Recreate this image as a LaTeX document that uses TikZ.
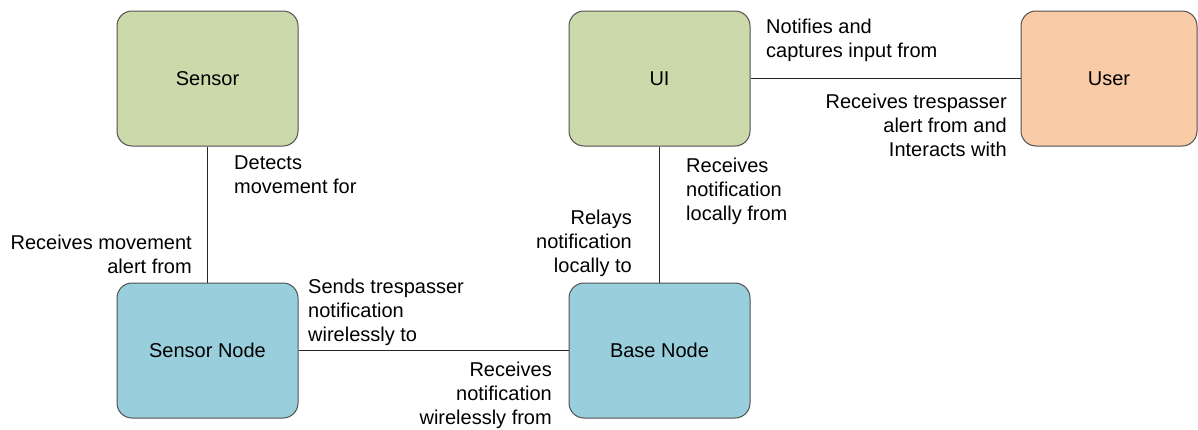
\documentclass[tikz,border=0pt]{standalone}
\usepackage{fontspec}
\setmainfont{Liberation Sans}
\definecolor{boxgreen}{HTML}{CCDAAB}
\definecolor{boxblue}{HTML}{99CFDC}
\definecolor{boxorange}{HTML}{F9CBA6}
\definecolor{edgegray}{HTML}{505050}
\tikzset{
  ent/.style={draw=edgegray, line width=1pt, rounded corners=15pt, minimum width=181pt, minimum height=135pt, inner sep=0pt, font=\fontsize{20}{24}\selectfont},
  lbl/.style={inner sep=0pt, font=\fontsize{20}{24}\selectfont},
  conn/.style={draw=black!85, line width=1pt}
}
\begin{document}
\begin{tikzpicture}[x=1pt,y=-1pt]
\useasboundingbox (0,0) rectangle (1198,429);
\fill[white] (0,0) rectangle (1198,429);
\node[ent, fill=boxgreen] (sensor) at (207.5,78.5) {Sensor};
\node[ent, fill=boxgreen] (ui) at (659.5,78.5) {UI};
\node[ent, fill=boxorange, minimum width=176pt] (user) at (1109,78.5) {User};
\node[ent, fill=boxblue] (snode) at (207.5,350.5) {Sensor Node};
\node[ent, fill=boxblue] (bnode) at (659.5,350.5) {Base Node};

\draw[conn] (sensor) -- (snode);
\draw[conn] (ui) -- (bnode);
\draw[conn] (snode) -- (bnode);
\draw[conn] (ui) -- (user);

\node[lbl, anchor=west, align=left] (l1) at (234,175) {Detects\\movement for};
\node[lbl, anchor=east, align=right] (l2) at (192,254) {Receives movement\\alert from};
\node[lbl, anchor=west, align=left] (l3) at (308,312) {Sends trespasser\\notification\\wirelessly to};
\node[lbl, anchor=east, align=right] (l4) at (552,395) {Receives\\notification\\wirelessly from};
\node[lbl, anchor=east, align=right] (l5) at (632,243) {Relays\\notification\\locally to};
\node[lbl, anchor=west, align=left] (l6) at (686,191) {Receives\\notification\\locally from};
\node[lbl, anchor=west, align=left] (l7) at (766,40) {Notifies and\\captures input from};
\node[lbl, anchor=east, align=right] (l8) at (1007,125) {Receives trespasser\\alert from and\\Interacts with};
\end{tikzpicture}
\end{document}
